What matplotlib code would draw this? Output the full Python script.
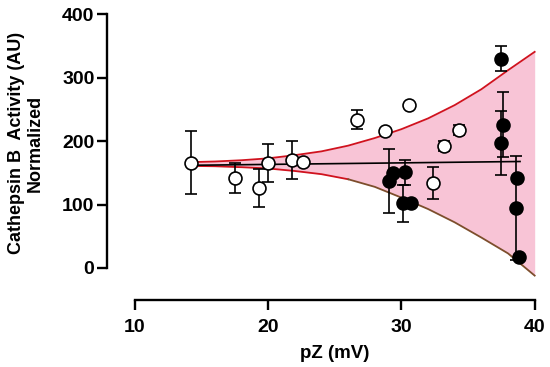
import numpy as np
import matplotlib
matplotlib.use("Agg")
import matplotlib.pyplot as plt

plt.rcParams['font.family'] = ['Liberation Sans', 'DejaVu Sans']
plt.rcParams['font.weight'] = 'bold'

# open circles
open_x = [14.2, 17.5, 19.3, 20.0, 21.8, 22.6, 26.7, 28.8, 30.6, 32.4, 33.2, 34.3]
open_y = [166, 142, 126, 165, 171, 167, 234, 216, 257, 134, 193, 218]
open_err = [50, 24, 30, 30, 30, 0, 15, 0, 0, 25, 8, 8]

# filled circles
filled_x = [29.1, 29.4, 30.25, 30.1, 30.75, 37.5, 37.65, 37.5, 38.7, 38.6, 38.8]
filled_y = [137, 150, 151, 102, 102, 330, 226, 197, 142, 94, 17]
filled_err = [50, 0, 20, 29, 0, 20, 51, 51, 0, 82, 0]

# regression line
fit_x = [14.2, 38.9]
fit_y = [162, 168]

# confidence band
band_x = [14.2, 16, 18, 20, 22, 24, 26, 28, 30, 32, 34, 36, 38, 40]
band_hi = [167, 168, 170, 173, 178, 184, 193, 205, 219, 236, 257, 282, 312, 341]
band_lo = [161, 160.5, 159, 157, 153, 148, 140, 128, 111, 93, 72, 48, 23, -12]

fig = plt.figure(figsize=(5.5, 3.67), dpi=100)
ax = fig.add_axes([107 / 550, 1 - 300 / 367, 433 / 550, 290 / 367])

ax.fill_between(band_x, band_lo, band_hi, color='#f8c4d6', lw=0, zorder=1)
ax.plot(band_x, band_hi, color='#d0121e', lw=1.3, zorder=2)
ax.plot(band_x[:7], band_lo[:7], color='#d0121e', lw=1.3, zorder=2)
ax.plot(band_x[6:], band_lo[6:], color='#7d4e2c', lw=1.3, zorder=2)
ax.plot(fit_x, fit_y, color='black', lw=1.2, zorder=3)

ax.errorbar(open_x, open_y, yerr=open_err, fmt='none', ecolor='black',
            elinewidth=1.2, capsize=4.5, capthick=1.2, zorder=4)
ax.errorbar(filled_x, filled_y, yerr=filled_err, fmt='none', ecolor='black',
            elinewidth=1.2, capsize=4.5, capthick=1.2, zorder=4)
ax.plot(open_x, open_y, 'o', ms=9.3, mfc='white', mec='black', mew=1.2, zorder=5)
ax.plot(filled_x, filled_y, 'o', ms=9.3, mfc='black', mec='black', mew=1.2, zorder=5)

ax.set_xlim(7.9, 40.4)
ax.set_ylim(-50.5, 407)
ax.spines['top'].set_visible(False)
ax.spines['right'].set_visible(False)
ax.spines['left'].set_bounds(0, 400)
ax.spines['bottom'].set_bounds(10, 40)
for s in ['left', 'bottom']:
    ax.spines[s].set_linewidth(1.7)
ax.set_xticks([10, 20, 30, 40])
ax.set_yticks([0, 100, 200, 300, 400])
ax.tick_params(width=1.7, length=7, labelsize=14)
ax.tick_params(axis='x', pad=7)
ax.tick_params(axis='y', pad=2)
for lab in ax.get_xticklabels() + ax.get_yticklabels():
    lab.set_fontweight('bold')

fig.text(335 / 550, 1 - 353 / 367, 'pZ (mV)', ha='center', va='center',
         fontsize=13.5, fontweight='bold')
fig.text(26 / 550, 1 - 143 / 367, 'Cathepsin B  Activity (AU)\nNormalized',
         ha='center', va='center', rotation=90, multialignment='center',
         fontsize=13, fontweight='bold', linespacing=1.15)

fig.savefig('out.png', dpi=100)
